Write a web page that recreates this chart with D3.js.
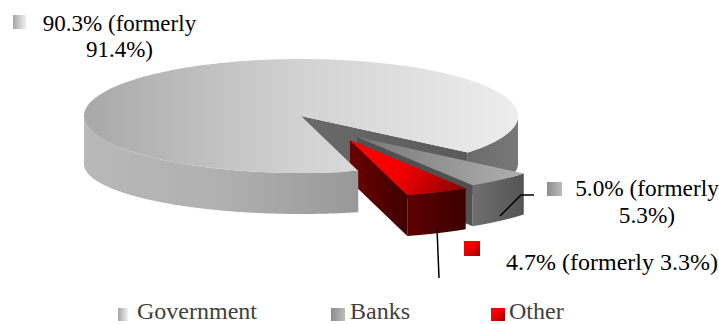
<!DOCTYPE html>
<html>
<head>
<meta charset="utf-8">
<script src="https://cdnjs.cloudflare.com/ajax/libs/d3/7.8.5/d3.min.js"></script>
<style>
html,body{margin:0;padding:0;background:#fff;overflow:hidden}
svg{display:block}
text{font-family:"Liberation Serif","Times New Roman",serif}
</style>
</head>
<body>
<script>
// Holders of the debt
const categories = ["Government", "Banks", "Other"];
const shares = [90.3, 5.0, 4.7];
const formerShares = [91.4, 5.3, 3.3];

const W = 719, H = 324;
const svg = d3.select("body").append("svg").attr("width", W).attr("height", H);
const defs = svg.append("defs");

// Tilted disc: unit-circle coordinates are mapped on to an ellipse
const sx = d3.scaleLinear().domain([-1, 1]).range([301 - 217, 301 + 217]);
const sy = d3.scaleLinear().domain([-1, 1]).range([116 - 57, 116 + 57]);
// The large slice's nearer edge is foreshortened; the pulled-out slices keep one depth
const thickness = (u, i) => i === 0 ? 48 - 7 * u : 41;

// Angles run clockwise from twelve o'clock, starting at the gap's lower edge
const pie = d3.pie().sort(null).value(d => d).startAngle(Math.PI * 164.7 / 180)
  .endAngle(Math.PI * (164.7 + 360) / 180);
const arcs = pie(shares);
const explode = [[0, 0], [56, 21], [49, 24]];

function gradient(id, stops, x1, x2, y1, y2) {
  const g = defs.append("linearGradient").attr("id", id)
    .attr("gradientUnits", "userSpaceOnUse")
    .attr("x1", x1).attr("x2", x2).attr("y1", y1 ?? 0).attr("y2", y2 ?? 0);
  stops.forEach(([o, c]) => g.append("stop").attr("offset", o).attr("stop-color", c));
  return `url(#${id})`;
}

const line = d3.line();
const topAt = (a, i) => [sx(Math.sin(a)) + explode[i][0], sy(-Math.cos(a)) + explode[i][1]];
const botAt = (a, i) => {
  const p = topAt(a, i);
  return [p[0], p[1] + thickness(-Math.cos(a), i)];
};
const steps = (a0, a1) => d3.range(0, 241).map(k => a0 + (a1 - a0) * k / 240);
const hub = i => [sx(0) + explode[i][0], sy(0) + explode[i][1]];
const hubLow = i => [hub(i)[0], hub(i)[1] + thickness(0, i)];

const topFace = (d, i) => line([hub(i), ...steps(d.startAngle, d.endAngle).map(a => topAt(a, i))]) + "Z";
const rim = (a0, a1, i) => {
  const s = steps(a0, a1);
  return line([...s.map(a => topAt(a, i)), ...s.slice().reverse().map(a => botAt(a, i))]) + "Z";
};
const wall = (a, i) => line([hub(i), topAt(a, i), botAt(a, i), hubLow(i)]) + "Z";

const [gov, banks, other] = arcs;
const quarterRight = Math.PI / 2, quarterLeft = Math.PI * 1.5;

// Government: inner wall and far-side rim sit behind the two pulled-out slices
svg.append("path").attr("d", wall(gov.endAngle, 0))
  .attr("fill", gradient("gWall", [[0, "#6a6a6a"], [1, "#5a5a5a"]], 302, 470));
svg.append("path").attr("d", rim(quarterRight, gov.endAngle - 2 * Math.PI, 0))
  .attr("fill", gradient("gBack", [[0, "#6c6c6c"], [1, "#787878"]], 470, 518));

// Banks
svg.append("path").attr("d", wall(banks.endAngle - 2 * Math.PI, 1)).attr("fill", "#505050");
svg.append("path").attr("d", rim(banks.startAngle, banks.endAngle, 1))
  .attr("fill", gradient("bRim", [[0, "#717171"], [1, "#525252"]], 470, 527));
svg.append("path").attr("d", topFace(banks, 1))
  .attr("fill", gradient("bTop", [[0, "#777777"], [1, "#b0b0b0"]], 357, 525));

// Other
svg.append("path").attr("d", wall(other.endAngle, 2))
  .attr("fill", gradient("oWall", [[0, "#6b0000"], [1, "#3f0000"]], 350, 408));
svg.append("path").attr("d", rim(other.startAngle, other.endAngle, 2))
  .attr("fill", gradient("oRim", [[0, "#5e0000"], [1, "#3c0000"]], 408, 467));
svg.append("path").attr("d", topFace(other, 2))
  .attr("fill", gradient("oTop", [[0, "#ff0000"], [0.45, "#ee0000"], [1, "#990000"]], 370, 450, 150, 195));

// Government top and near rim go last so they overlap the neighbouring walls
svg.append("path").attr("d", rim(gov.startAngle, quarterLeft, 0))
  .attr("fill", gradient("gRim", [[0, "#b8b8b8"], [0.5, "#b0b0b0"], [1, "#989898"]], 84, 361));
svg.append("path").attr("d", topFace(gov, 0))
  .attr("fill", gradient("gTop", [[0, "#a8a8a8"], [0.5, "#d2d2d2"], [1, "#ededed"]], 84, 518));

// Leader lines
const leaders = [[[500, 216], [521, 195], [534, 195]], [[437, 228], [439, 278]]];
svg.selectAll(".leader").data(leaders).join("path").attr("class", "leader")
  .attr("d", d => line(d)).attr("fill", "none").attr("stroke", "#000").attr("stroke-width", 1.5);

// Colour keys
const keyFill = [
  k => gradient(k, [[0, "#a4a4a4"], [1, "#f0f0f0"]], 0, 1),
  k => gradient(k, [[0, "#8c8c8c"], [1, "#bcbcbc"]], 0, 1),
  k => gradient(k, [[0, "#ff0000"], [0.45, "#ee0000"], [1, "#990000"]], 0, 1, 0, 1)
];
function key(x, y, w, h, idx, id) {
  const f = keyFill[idx](id);
  d3.select(`#${id}`).attr("gradientUnits", "objectBoundingBox");
  svg.append("rect").attr("x", x).attr("y", y).attr("width", w).attr("height", h).attr("fill", f);
}
key(13, 15, 13, 14, 0, "k0");
key(547, 182, 15, 14, 1, "k1");
key(464, 241, 16, 15, 2, "k2");
key(118, 308, 10, 13, 0, "l0");
key(331, 308, 14, 13, 1, "l1");
key(491, 308, 14, 13, 2, "l2");

// Data labels
function label(x, y, t, size) {
  svg.append("text").attr("x", x).attr("y", y).attr("text-anchor", "middle")
    .attr("font-size", size).attr("fill", "#000").text(t);
}
const pct = v => `${v.toFixed(1)}%`;
label(119.5, 31, `${pct(shares[0])} (formerly`, 23);
label(119.5, 57, `${pct(formerShares[0])})`, 23);
label(647, 196, `${pct(shares[1])} (formerly`, 23.3);
label(647, 223, `${pct(formerShares[1])})`, 23.3);
label(612, 270, `${pct(shares[2])} (formerly ${pct(formerShares[2])})`, 24);

// Legend, kept just clear of the bottom edge
[137, 350, 509].forEach((x, i) => {
  svg.append("text").attr("x", x).attr("y", 318.5).attr("font-size", 24)
    .attr("fill", "#404040").text(categories[i]);
});
</script>
</body>
</html>
